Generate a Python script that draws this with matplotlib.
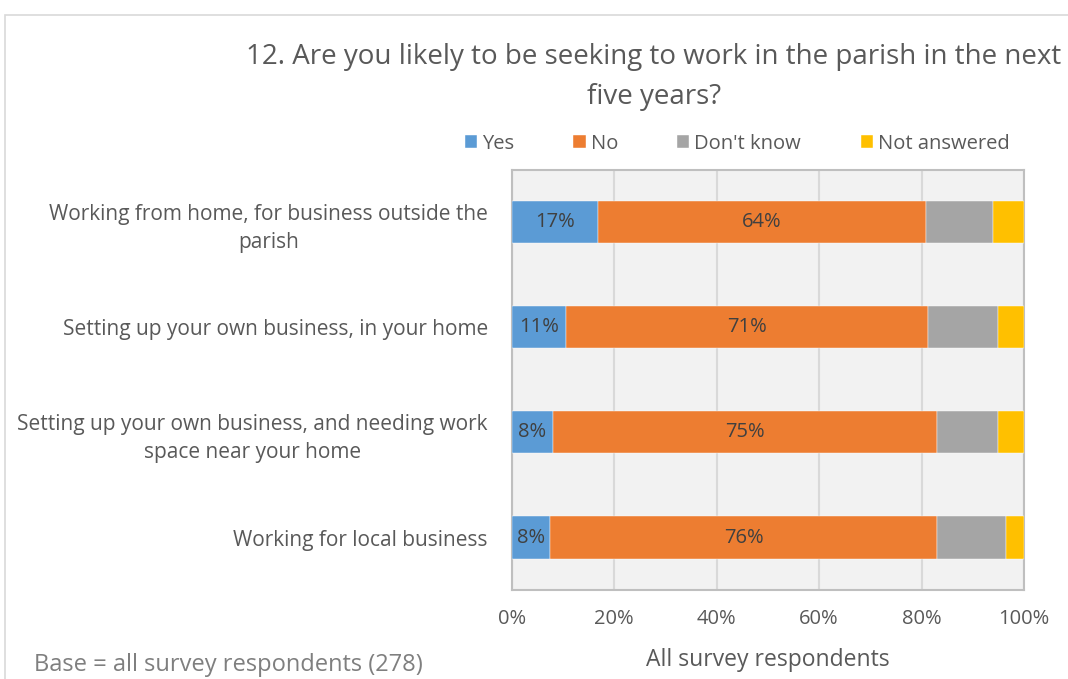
import matplotlib.pyplot as plt
from matplotlib.patches import Rectangle

plt.rcParams['font.family'] = ['Open Sans', 'DejaVu Sans']

categories = ['Working from home, for business outside the\nparish',
              'Setting up your own business, in your home',
              'Setting up your own business, and needing work\nspace near your home',
              'Working for local business']
series = ['Yes', 'No', "Don't know", 'Not answered']
yes = [16.8, 10.7, 8.1, 7.5]
no = [64.1, 70.6, 74.9, 75.5]
dont_know = [13.0, 13.6, 11.9, 13.4]
not_answered = [6.1, 5.1, 5.1, 3.6]
yes_labels = ['17%', '11%', '8%', '8%']
no_labels = ['64%', '71%', '75%', '76%']

colors = ['#5b9bd5', '#ed7d31', '#a5a5a5', '#ffc000']
text_col = '#595959'

fig = plt.figure(figsize=(10.68, 6.79), dpi=100)
ax = fig.add_axes([0.479, 0.131, 0.48, 0.619])
fig.patches.append(Rectangle((0.005, -0.1), 1.1, 1.078, transform=fig.transFigure,
                             fill=False, edgecolor='#d9d9d9', lw=1.2))

ypos = list(range(len(categories)))
left = [0] * len(categories)
for vals, name, col in zip([yes, no, dont_know, not_answered], series, colors):
    bars = ax.barh(ypos, vals, left=left, height=0.4, color=col, label=name,
                   edgecolor='white', linewidth=0.3, zorder=3)
    if name == 'Yes':
        ax.bar_label(bars, labels=yes_labels, label_type='center', color='#404040', fontsize=14.5)
    if name == 'No':
        ax.bar_label(bars, labels=no_labels, label_type='center', color='#404040', fontsize=14.5)
    left = [a + b for a, b in zip(left, vals)]

ax.set_xlim(0, 100)
ax.set_ylim(3.5, -0.5)
ax.set_facecolor('#f2f2f2')
ax.set_xticks([0, 20, 40, 60, 80, 100])
ax.set_xticklabels(['0%', '20%', '40%', '60%', '80%', '100%'], color=text_col, fontsize=14.5)
ax.set_yticks(ypos)
ax.set_yticklabels(categories, color=text_col, fontsize=15, ha='right', multialignment='center',
                   linespacing=1.45)
ax.tick_params(axis='y', length=0, pad=17)
ax.tick_params(axis='x', length=0, pad=14)
ax.grid(axis='x', color='#d9d9d9', lw=1.5, zorder=0)
for s in ax.spines.values():
    s.set_color('#bfbfbf')
    s.set_linewidth(1.5)
ax.set_xlabel('All survey respondents', color=text_col, fontsize=16.5, labelpad=13)

fig.text(0.612, 0.887, '12. Are you likely to be seeking to work in the parish in the next\nfive years?',
         ha='center', va='center', fontsize=20, color=text_col, linespacing=1.55)
ax.legend(loc='lower center', bbox_to_anchor=(0.44, 0.995), ncol=4, frameon=False,
          fontsize=14.5, labelcolor=text_col, handlelength=0.6, handleheight=0.6,
          handletextpad=0.25, columnspacing=2.95)
fig.text(0.032, 0.012, 'Base = all survey respondents (278)', fontsize=17, color='#7f7f7f')

fig.savefig('out.png', dpi=100)
